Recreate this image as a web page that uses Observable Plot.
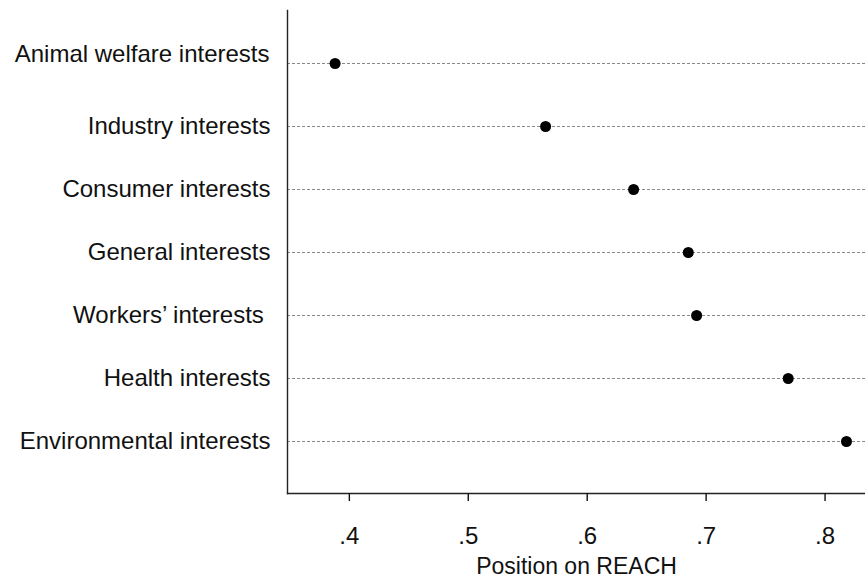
<!DOCTYPE html>
<html>
<head>
<meta charset="utf-8">
<script src="https://cdn.jsdelivr.net/npm/d3@7"></script>
<script src="https://cdn.jsdelivr.net/npm/@observablehq/plot@0.6"></script>
<style>
  html, body { margin: 0; padding: 0; background: #fff; }
  svg text { white-space: pre; }
</style>
</head>
<body>
<div id="chart"></div>
<script>
const categories = ["Animal welfare interests", "Industry interests", "Consumer interests", "General interests", "Workers’ interests ", "Health interests", "Environmental interests"];
const values = [0.388, 0.565, 0.639, 0.685, 0.692, 0.769, 0.818];
const xTicks = [0.4, 0.5, 0.6, 0.7, 0.8];
const xTickLabels = [".4", ".5", ".6", ".7", ".8"];
const xTitle = "Position on REACH";

const data = categories.map((c, i) => ({category: c, value: values[i]}));

const chart = Plot.plot({
  width: 865,
  height: 580,
  marginLeft: 287,
  marginRight: 0,
  marginTop: 10,
  marginBottom: 87,
  style: {fontFamily: "'Liberation Sans', Arial, sans-serif", fontSize: "24px", color: "#111", background: "#fff"},
  x: {domain: [0.348, 0.834]},
  y: {type: "point", domain: categories, padding: 0.8},
  marks: [
    Plot.ruleY(categories, {y: d => d, stroke: "#888", strokeWidth: 1, strokeDasharray: "3,2"}),
    Plot.frame({anchor: "left", stroke: "#222", strokeWidth: 1.4}),
    Plot.frame({anchor: "bottom", stroke: "#222", strokeWidth: 1.4}),
    Plot.axisY({ticks: categories.slice(0, 1), tickSize: 0, tickPadding: 18, fontSize: 24, dy: -9, label: null}),
    Plot.axisY({ticks: categories.slice(1), tickSize: 0, tickPadding: 17, fontSize: 24, label: null}),
    Plot.axisX({ticks: xTicks, tickFormat: (d) => xTickLabels[xTicks.indexOf(d)], tickSize: 8, tickPadding: 25, fontSize: 24, label: null, strokeWidth: 1.4}),
    Plot.text([xTitle], {frameAnchor: "bottom", dy: 73, fontSize: 23, fill: "#111", lineAnchor: "middle"}),
    Plot.dot(data, {x: "value", y: "category", r: 5.5, fill: "#000", stroke: "none"})
  ]
});
document.getElementById("chart").appendChild(chart);
</script>
</body>
</html>
